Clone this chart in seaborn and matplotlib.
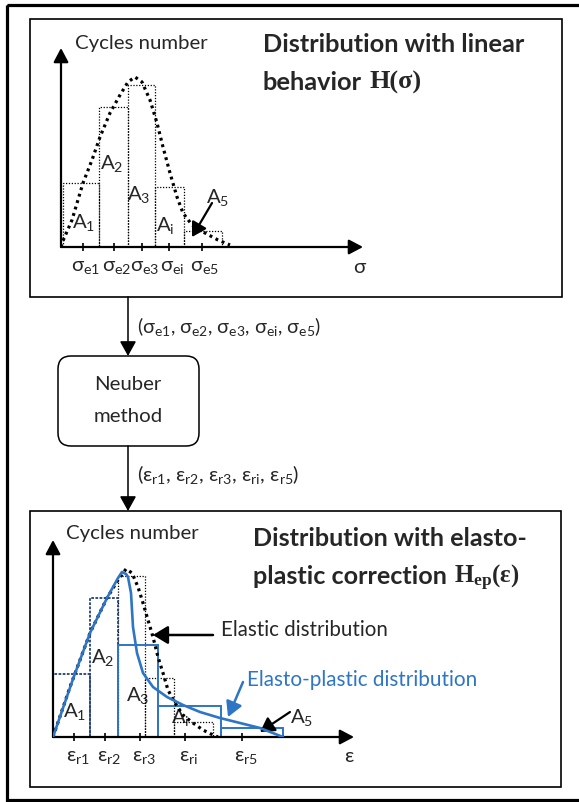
import matplotlib
matplotlib.use("Agg")
import matplotlib.pyplot as plt
import seaborn as sns
import numpy as np
from matplotlib.patches import Rectangle, FancyBboxPatch

# ---------------- data (units = pixel offsets from each chart origin) -------------
# Top chart: linear (elastic) distribution H(sigma)
sigma_curve_x = [0, 1, 11, 22, 31, 39, 49, 59, 67, 74, 81, 89, 96, 102, 109, 116, 122, 131, 144, 157, 169]
sigma_curve_y = [0, 4, 27, 64, 87, 110, 134, 152, 165, 170, 165, 147, 124, 100, 74, 50, 34, 22, 14, 7, 2]
sigma_bar_edges = [2, 38, 67, 94, 123, 161]
sigma_bar_heights = [64, 140, 162, 60, 16]
sigma_ticks = [22, 53, 81, 108, 141]
sigma_tick_labels = ["σ$_{e1}$", "σ$_{e2}$", "σ$_{e3}$", "σ$_{ei}$", "σ$_{e5}$"]
area_labels = ["A$_1$", "A$_2$", "A$_3$", "A$_i$", "A$_5$"]

# Bottom chart: elastic vs elasto-plastic distribution
eps_elastic_x = [0, 17, 37, 54, 65, 73, 79, 85, 90, 95, 100, 105, 110, 115, 122, 130, 140, 150, 160, 165]
eps_elastic_y = [0, 50, 104, 139, 157, 168, 164, 150, 134, 117, 100, 80, 64, 47, 34, 22, 14, 7, 2, 0]
eps_plastic_x = [0, 20, 37, 54, 65, 69, 73, 75, 78, 79, 80, 84, 90, 100, 114, 130, 147, 167, 187, 207, 230]
eps_plastic_y = [0, 58, 104, 139, 159, 165, 163, 160, 144, 127, 110, 84, 64, 50, 40, 32, 25, 19, 14, 9, 0]
elastic_bar_edges = [0, 37, 65, 92, 121, 160]
elastic_bar_heights = [63, 139, 161, 59, 15]
plastic_bar_edges = [0, 37, 65, 105, 168, 230]
plastic_bar_heights = [63, 139, 92, 31, 9]
eps_ticks = [21, 52, 87, 132, 189]
eps_tick_labels = ["ε$_{r1}$", "ε$_{r2}$", "ε$_{r3}$", "ε$_{ri}$", "ε$_{r5}$"]

# ---------------- style -------------
sns.set_theme(style="white")
plt.rcParams["font.family"] = ["Lato", "DejaVu Sans"]
plt.rcParams["mathtext.default"] = "regular"

BLUE = "#2E75C6"
NAVY = "#22407F"
W, H = 579, 802

fig = plt.figure(figsize=(W / 100, H / 100), dpi=100)
fig.patch.set_facecolor("white")
bg = fig.add_axes([0, 0, 1, 1])
bg.set_xlim(0, W)
bg.set_ylim(H, 0)
bg.axis("off")

renderer = fig.canvas.get_renderer()


def fit(ax, x, y, s, width, ha="left", va="center", **kw):
    t = ax.text(x, y, s, ha=ha, va=va, fontsize=10, **kw)
    w = t.get_window_extent(renderer).width
    t.set_fontsize(10 * width / w)
    return t


def chart_axes(ox, oy, w, h):
    ax = fig.add_axes([ox / W, 1 - oy / H, w / W, h / H])
    ax.set_xlim(0, w)
    ax.set_ylim(0, h)
    ax.axis("off")
    ax.patch.set_alpha(0)
    return ax


def arrow(ax, tail, tip, color="black", lw=1.6, hl=0.85, hw=0.45, ms=10):
    ax.annotate("", xy=tip, xytext=tail, annotation_clip=False,
                arrowprops=dict(arrowstyle=f"-|>,head_length={hl},head_width={hw}",
                                mutation_scale=ms, lw=lw, color=color,
                                shrinkA=0, shrinkB=0))


# ---------------- frames and flow -------------
bg.add_patch(Rectangle((6.5, 4.5), 620, 795, fill=False, lw=2.3, ec="black"))
bg.add_patch(Rectangle((30, 19), 532, 278, fill=False, lw=1.2, ec="black"))
bg.add_patch(Rectangle((29.5, 511), 531.5, 276, fill=False, lw=1.2, ec="black"))
bg.add_patch(FancyBboxPatch((58, 356), 141, 90, boxstyle="round,pad=0,rounding_size=13",
                            fill=False, lw=1.1, ec="black"))
arrow(bg, (128, 297), (128, 356), lw=1.1, hl=0.9, hw=0.5)
arrow(bg, (128, 446), (128, 511), lw=1.1, hl=0.9, hw=0.5)

fs = fit(bg, 75, 43, "Cycles number", 133).get_fontsize()
bg.text(66, 534, "Cycles number", fontsize=fs, ha="left", va="center")

bg.text(128, 385, "Neuber", fontsize=fs, ha="center", va="center")
bg.text(128, 417, "method", fontsize=fs, ha="center", va="center")
fit(bg, 137, 327, "(σ$_{e1}$, σ$_{e2}$, σ$_{e3}$, σ$_{ei}$, σ$_{e5}$)", 185)
fit(bg, 137, 475, "(ε$_{r1}$, ε$_{r2}$, ε$_{r3}$, ε$_{ri}$, ε$_{r5}$)", 163)

# titles
t1 = fit(bg, 263, 45, "Distribution with linear", 262, fontweight="bold")
bg.text(263, 82, "behavior", fontsize=t1.get_fontsize(), fontweight="bold", ha="left", va="center")
fit(bg, 370, 82, "H(σ)", 52, fontweight="bold", family="Liberation Serif")
t2 = fit(bg, 253, 538, "Distribution with elasto-", 273, fontweight="bold")
bg.text(253, 576, "plastic correction", fontsize=t2.get_fontsize(), fontweight="bold",
        ha="left", va="center")
fit(bg, 454, 578, "H$_{ep}$(ε)", 67, fontweight="bold", family="Liberation Serif")

# ---------------- top chart -------------
ax1 = chart_axes(61, 247, 320, 215)
ax1.bar(sigma_bar_edges[:-1], sigma_bar_heights, width=np.diff(sigma_bar_edges), align="edge",
        fill=False, edgecolor="black", linestyle=(0, (1, 1.3)), lw=0.9, zorder=2)
sns.lineplot(x=sigma_curve_x, y=sigma_curve_y, ax=ax1, color="black", lw=2.3,
             linestyle=(0, (0.9, 1.2)), sort=False, estimator=None, zorder=4)
arrow(ax1, (0, 0), (0, 199), lw=1.6)
arrow(ax1, (0, 0), (302, 0), lw=1.6)
ax1.vlines(sigma_ticks, -4, 4, color="black", lw=1.2, clip_on=False)
for xt, lab in zip(sigma_ticks, sigma_tick_labels):
    ax1.text(xt + 3, -20, lab, fontsize=fs, ha="center", va="center", clip_on=False)
ax1.text(298, -20, "σ", fontsize=fs, ha="center", va="center", clip_on=False)
for (lx, ly), lab in zip([(23, 25), (51, 84), (78, 53), (104, 22), (157, 50)], area_labels):
    ax1.text(lx, ly, lab, fontsize=fs, ha="center", va="center", clip_on=False, zorder=1)
arrow(ax1, (151, 44), (131, 10), lw=1.6, hl=0.85, hw=0.5)

# ---------------- bottom chart -------------
ax2 = chart_axes(53, 737, 320, 215)
ax2.bar(elastic_bar_edges[2:-1], elastic_bar_heights[2:], width=np.diff(elastic_bar_edges)[2:],
        align="edge", fill=False, edgecolor="black", linestyle=(0, (1, 1.3)), lw=0.9, zorder=2)
ax2.bar(plastic_bar_edges[:2], plastic_bar_heights[:2], width=np.diff(plastic_bar_edges)[:2],
        align="edge", fill=False, edgecolor=NAVY, linestyle=(0, (1.5, 0.8)), lw=1.3, zorder=2)
ax2.bar(plastic_bar_edges[2:-1], plastic_bar_heights[2:], width=np.diff(plastic_bar_edges)[2:],
        align="edge", fill=False, edgecolor=BLUE, lw=1.4, zorder=3)
sns.lineplot(x=eps_elastic_x, y=eps_elastic_y, ax=ax2, color="black", lw=2.3,
             linestyle=(0, (0.9, 1.2)), sort=False, estimator=None, zorder=4)
sns.lineplot(x=eps_plastic_x, y=eps_plastic_y, ax=ax2, color=BLUE, lw=1.9,
             sort=False, estimator=None, zorder=5)
arrow(ax2, (0, 0), (0, 197), lw=1.6)
arrow(ax2, (0, 0), (301, 0), lw=1.6)
ax2.vlines(eps_ticks, -4, 4, color="black", lw=1.2, clip_on=False)
for xt, lab in zip(eps_ticks, eps_tick_labels):
    ax2.text(xt + 4, -20, lab, fontsize=fs, ha="center", va="center", clip_on=False)
ax2.text(296, -20, "ε", fontsize=fs, ha="center", va="center", clip_on=False)
for (lx, ly), lab in zip([(22, 25), (50, 80), (85, 41), (127, 20), (249, 20)], area_labels):
    ax2.text(lx, ly, lab, fontsize=fs, ha="center", va="center", clip_on=False, zorder=1)
arrow(ax2, (160, 102), (100, 102), lw=1.8, hl=0.9, hw=0.55)
fit(ax2, 168, 107, "Elastic distribution", 167, clip_on=False)
arrow(ax2, (190, 55), (175, 20), color=BLUE, lw=1.8, hl=0.9, hw=0.5)
fit(ax2, 194, 57, "Elasto-plastic distribution", 231, color=BLUE, clip_on=False)
arrow(ax2, (237, 25), (207, 5), lw=1.6, hl=0.85, hw=0.5)

fig.savefig("out.png", dpi=100, facecolor="white")
